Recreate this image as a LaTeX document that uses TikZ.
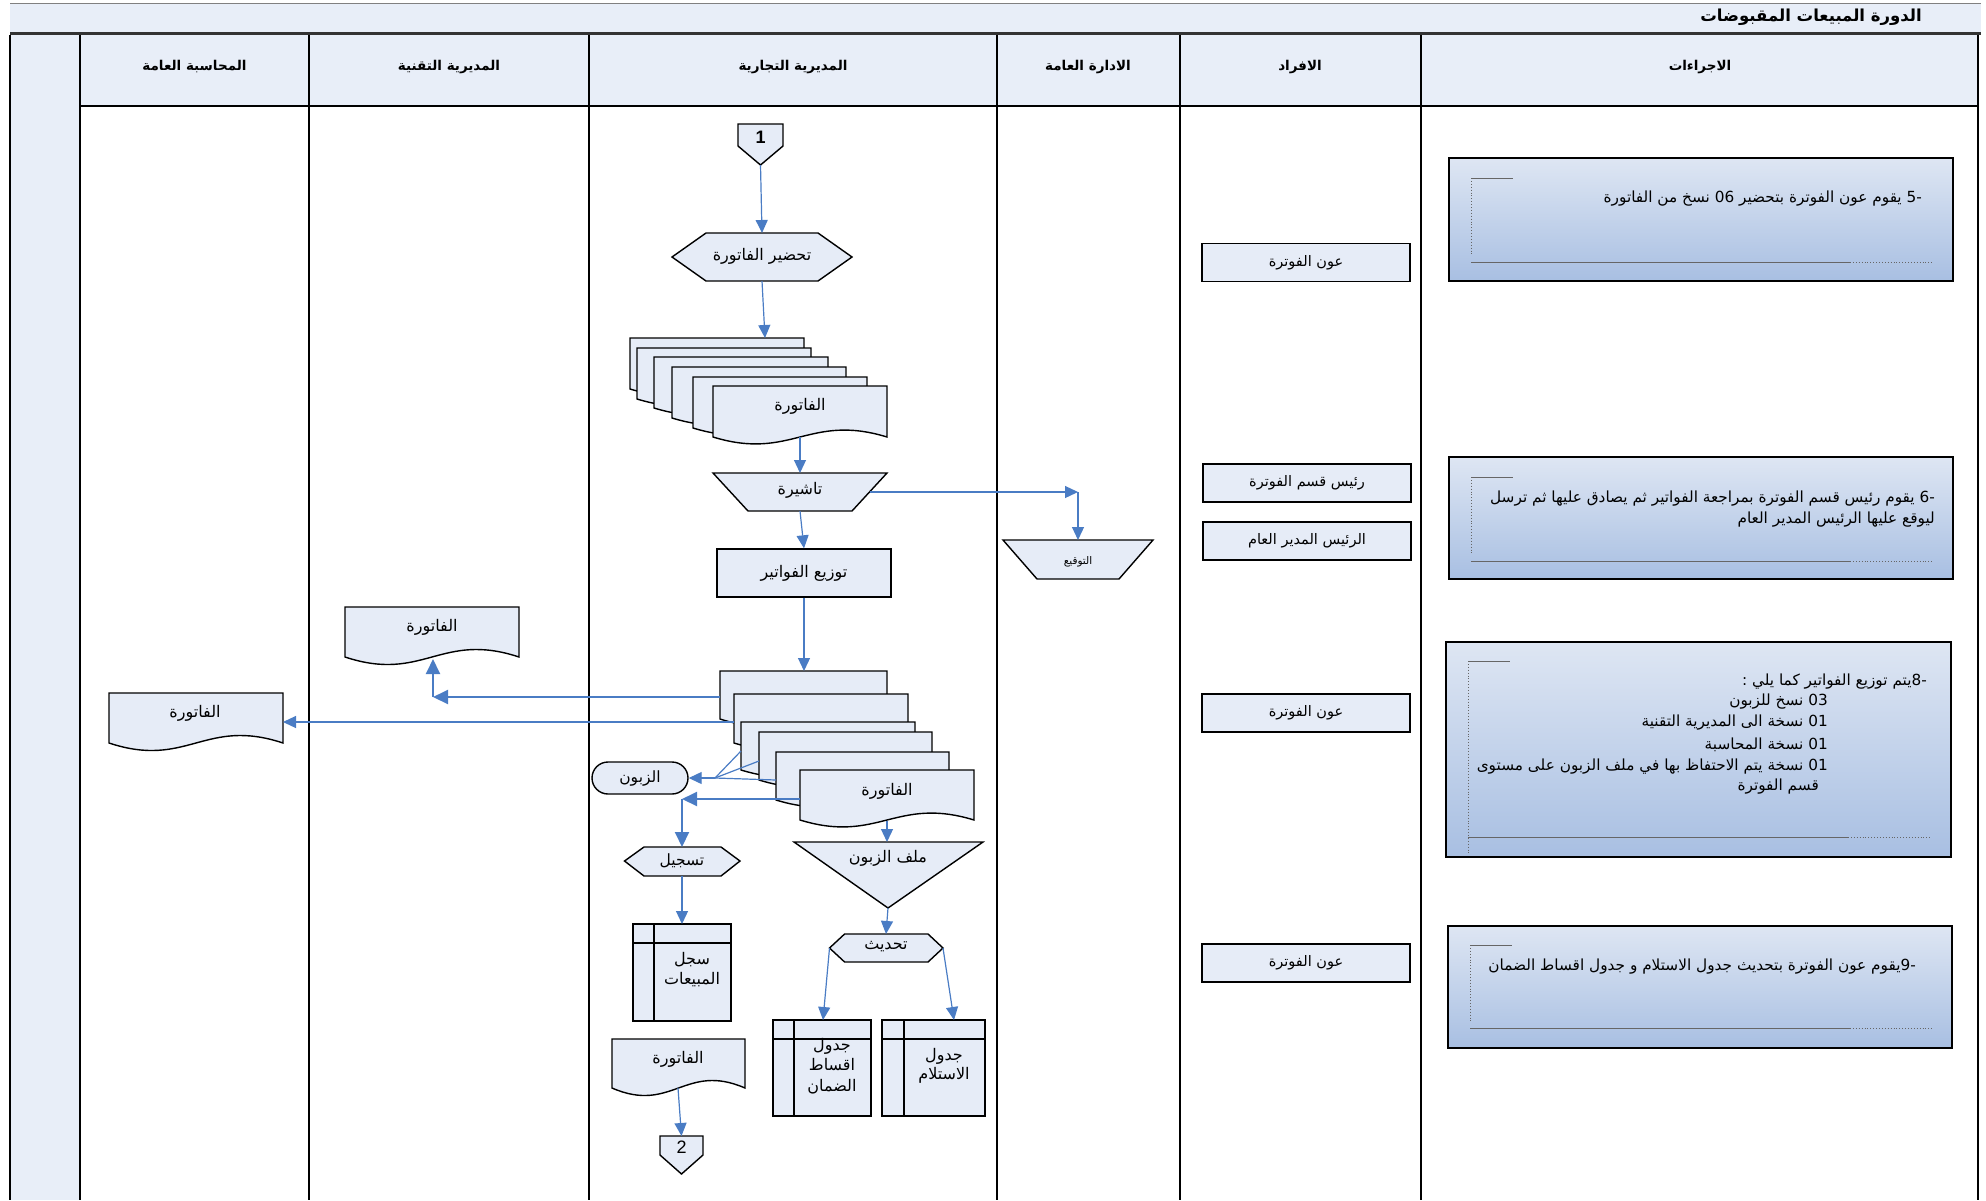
\documentclass[tikz,border=0pt]{standalone}
\usepackage{fontspec}
\setmainfont{Liberation Sans}
\newfontfamily\arfont[Script=Arabic]{DejaVu Sans}
\TeXXeTstate=1
\usetikzlibrary{arrows.meta,calc}
\definecolor{shapefill}{RGB}{230,236,247}
\definecolor{hdrfill}{RGB}{232,238,248}
\definecolor{arrblue}{RGB}{74,124,196}
\definecolor{boxtop}{RGB}{222,230,243}
\definecolor{boxbot}{RGB}{168,191,226}
\newcommand\rtl[1]{\beginR#1\endR}
\newcommand\ltr[1]{\beginL#1\endL{}}
\newcommand\docshape[5]{\filldraw[shp] ({#1},{#2}) -- ({#3},{#2}) -- ({#3},{#4}) .. controls ({#3-0.45*(#3-#1)},{#4-#5}) and ({#1+0.45*(#3-#1)},{#4+#5}) .. ({#1},{#4}) -- cycle;}
\newcommand\tableshape[6]{\filldraw[shp] ({#1},{#2}) rectangle ({#3},{#4}); \draw[shp,fill=none] ({#5},{#2}) -- ({#5},{#4}) ({#1},{#6}) -- ({#3},{#6});}
\newcommand\offpage[5]{\filldraw[shp] ({#1},{#2}) -- ({#3},{#2}) -- ({#3},{#4}) -- ({(#1+#3)/2},{#5}) -- ({#1},{#4}) -- cycle;}
\newcommand\procbox[8]{% x0 y0 x1 y1 ytop yvend ybottom xsolidend
  \path[proc] ({#1},{#2}) rectangle ({#3},{#4});
  \draw[brk] ({#1+22},{#5}) -- ({#1+64},{#5});
  \draw[brkd] ({#1+22},{#5}) -- ({#1+22},{#6});
  \draw[brk] ({#1+22},{#7}) -- ({#8},{#7});
  \draw[brkd] ({#8},{#7}) -- ({#3-20},{#7});}
\tikzset{
  shp/.style={draw=black, fill=shapefill, line width=1.4pt},
  arr/.style={draw=arrblue, line width=1.2pt, -{Triangle[length=13pt,width=12pt]}},
  arrk/.style={draw=arrblue, line width=2pt, -{Triangle[length=15pt,width=14pt]}},
  ln/.style={draw=arrblue, line width=1.2pt},
  lanel/.style={draw=black, line width=1.6pt},
  lbl/.style={font=\arfont\fontsize{16}{19}\selectfont, inner sep=0pt},
  hdr/.style={font=\arfont\bfseries\fontsize{13.5}{16}\selectfont, inner sep=0pt},
  ptxt/.style={font=\arfont\fontsize{15.3}{21.3}\selectfont, inner sep=0pt, align=right},
  proc/.style={draw=black, line width=1.6pt, top color=boxtop, bottom color=boxbot},
  brk/.style={draw=black!60, line width=0.9pt},
  brkd/.style={draw=black!60, line width=0.9pt, dotted},
  ibox/.style={draw=black, fill=shapefill, line width=1.4pt, minimum width=208pt, minimum height=38pt, font=\arfont\fontsize{14.5}{17}\selectfont},
}
\begin{document}
\begin{tikzpicture}[x=1pt,y=-1pt]
\useasboundingbox (0,0) rectangle (1986,1200);
% title bar
\fill[hdrfill] (10,3) rectangle (1981,33);
\draw[black!50, line width=1pt] (10,3) -- (1981,3);
\draw[black!80, line width=3pt] (10,33.5) -- (1981,33.5);
\node[anchor=east, font=\arfont\bfseries\fontsize{16.5}{20}\selectfont, inner sep=0pt] (title) at (1922,17) {\rtl{الدورة المبيعات المقبوضات}};
% header row and left strip
\fill[hdrfill] (10,35) rectangle (1978,106);
\fill[hdrfill] (10,106) rectangle (80,1200);
\draw[lanel] (80,106) -- (1978,106);
\foreach \xx in {10,80,309,589,997,1180,1421,1978} {\draw[lanel] (\xx,35) -- (\xx,1200);}
\node[hdr] (h1) at (194.5,67) {\rtl{المحاسبة العامة}};
\node[hdr] (h2) at (449,67) {\rtl{المديرية التقنية}};
\node[hdr] (h3) at (793,67) {\rtl{المديرية التجارية}};
\node[hdr] (h4) at (1088,67) {\rtl{الادارة العامة}};
\node[hdr] (h5) at (1300,67) {\rtl{الافراد}};
\node[hdr] (h6) at (1700,67) {\rtl{الاجراءات}};

% ---- commercial lane ----
\offpage{738}{124}{783}{146}{165}
\node[font=\bfseries\fontsize{18}{20}\selectfont, inner sep=0pt] (c1) at (760.5,137) {1};
\coordinate (c1-s) at (760.5,165);
\filldraw[shp] (672,257) -- (706,233) -- (818,233) -- (852,257) -- (818,281) -- (706,281) -- cycle;
\node[lbl] (prep) at (762,256) {\rtl{تحضير الفاتورة}};
\coordinate (prep-n) at (762,233); \coordinate (prep-s) at (762,281);
% stack 1
\docshape{630}{338}{804}{389}{24}
\docshape{637}{348}{811}{399}{24}
\docshape{654}{357}{828}{408}{24}
\docshape{672}{367}{846}{418}{24}
\docshape{693}{377}{867}{428}{24}
\docshape{713}{386}{887}{437}{24}
\node[lbl] (s1) at (800,406) {\rtl{الفاتورة}};
\coordinate (s1-n) at (765,338); \coordinate (s1-b) at (800,437);
% tashira
\filldraw[shp] (713,473) -- (887,473) -- (852,511) -- (748,511) -- cycle;
\node[lbl] (tash) at (800,490) {\rtl{تاشيرة}};
\coordinate (tash-n) at (800,473); \coordinate (tash-e) at (870,492); \coordinate (tash-s) at (800,511);
% signature
\filldraw[shp] (1003,540) -- (1153,540) -- (1119,579) -- (1037,579) -- cycle;
\node[font=\arfont\fontsize{10.5}{12}\selectfont, inner sep=0pt] (sign) at (1078,562) {\rtl{التوقيع}};
\coordinate (k1) at (1078,492); \coordinate (sign-n) at (1078,540);
% distribution
\node[draw=black, fill=shapefill, line width=1.4pt, minimum width=174pt, minimum height=48pt, font=\arfont\fontsize{16}{19}\selectfont] (dist) at (804,573) {\rtl{توزيع الفواتير}};
% stack 2
\docshape{720}{671}{887}{719}{24}
\docshape{734}{694}{908}{743}{24}
\docshape{741}{722}{915}{770}{24}
\docshape{759}{732}{932}{780}{24}
\docshape{776}{752}{949}{800}{24}
\docshape{800}{770}{974}{820}{24}
\node[lbl] (s2) at (887,791) {\rtl{الفاتورة}};
\coordinate (s2-n) at (804,671);
\coordinate (s2a-w) at (720,697); \coordinate (s2b-w) at (734,722);
\coordinate (s2c-w) at (741,751); \coordinate (s2d-w) at (759,761);
\coordinate (s2e-w) at (776,780); \coordinate (s2f-w) at (800,799);
\coordinate (s2-b) at (887,821);
% customer terminal
\node[draw=black, fill=shapefill, line width=1.4pt, rounded corners=16pt, minimum width=96pt, minimum height=32pt, font=\arfont\fontsize{15.5}{18}\selectfont] (cust) at (640,778) {\rtl{الزبون}};
\coordinate (jn) at (715,778);
% register hexagon
\filldraw[shp] (624.5,861) -- (644,847) -- (721,847) -- (740,861) -- (721,876) -- (644,876) -- cycle;
\node[lbl, font=\arfont\fontsize{15.5}{18}\selectfont] (reg) at (682,861) {\rtl{تسجيل}};
\coordinate (k3) at (682,799); \coordinate (reg-n) at (682,847); \coordinate (reg-s) at (682,876);
% sales register
\tableshape{633}{924}{731}{1021}{654}{943}
\node[lbl, align=center, font=\arfont\fontsize{16}{20}\selectfont] (sales) at (692,970) {\rtl{سجل}\\\rtl{المبيعات}};
\coordinate (sales-n) at (682,924);
% invoice doc bottom
\docshape{612}{1039}{745}{1088}{26}
\node[lbl] (doc3) at (678,1059) {\rtl{الفاتورة}};
\coordinate (doc3-b) at (678,1088);
\offpage{660}{1136}{703}{1155}{1174}
\node[font=\fontsize{18}{20}\selectfont, inner sep=0pt] (c2) at (681.5,1147) {2};
\coordinate (c2-n) at (681.5,1136);
% customer file triangle
\filldraw[shp] (794,842) -- (983,842) -- (888,908) -- cycle;
\node[lbl] (file) at (888,858) {\rtl{ملف الزبون}};
\coordinate (file-n) at (887,842); \coordinate (file-s) at (888,908);
% update hexagon
\filldraw[shp] (829.5,948) -- (844.6,934) -- (928,934) -- (943,948) -- (928,962) -- (844.6,962) -- cycle;
\node[lbl] (upd) at (886,947) {\rtl{تحديث}};
\coordinate (upd-n) at (886,934); \coordinate (upd-w) at (829.5,948); \coordinate (upd-e) at (943,948);
% tables
\tableshape{773}{1020}{871}{1116}{794}{1039}
\node[lbl, align=center, font=\arfont\fontsize{16}{20.5}\selectfont] (aqs) at (832,1066) {\rtl{جدول}\\\rtl{اقساط}\\\rtl{الضمان}};
\coordinate (aqs-n) at (823,1020);
\tableshape{882}{1020}{985}{1116}{904}{1039}
\node[lbl, align=center, font=\arfont\fontsize{16}{19.5}\selectfont] (ist) at (944,1066) {\rtl{جدول}\\\rtl{الاستلام}};
\coordinate (ist-n) at (954,1020);

% ---- technical & accounting docs ----
\docshape{345}{607}{519}{657}{26}
\node[lbl] (tech) at (432,627) {\rtl{الفاتورة}};
\coordinate (tech-b) at (433,659); \coordinate (k2) at (433,697);
\docshape{109}{693}{283}{743}{26}
\node[lbl] (acc) at (195,713) {\rtl{الفاتورة}};
\coordinate (acc-e) at (283,722);

% ---- individuals ----
\node[ibox] (i1) at (1306,262.5) {\rtl{عون الفوترة}};
\node[ibox] (i2) at (1307,483) {\rtl{رئيس قسم الفوترة}};
\node[ibox] (i3) at (1307,541) {\rtl{الرئيس المدير العام}};
\node[ibox] (i4) at (1306,713) {\rtl{عون الفوترة}};
\node[ibox] (i5) at (1306,963) {\rtl{عون الفوترة}};

% ---- procedures ----
\procbox{1449}{158}{1953}{281}{178}{255}{262}{1850}
\node[ptxt, anchor=east] (p5) at (1922,199) {\rtl{\ltr{-5} يقوم عون الفوترة بتحضير \ltr{06} نسخ من الفاتورة}};
\procbox{1449}{457}{1953}{579}{477}{553}{561}{1850}
\node[ptxt, anchor=east] (p6a) at (1935,499) {\rtl{\ltr{-6} يقوم رئيس قسم الفوترة  بمراجعة الفواتير ثم يصادق عليها ثم  ترسل}};
\node[ptxt, anchor=east] (p6b) at (1935,520) {\rtl{ليوقع عليها الرئيس المدير العام}};
\procbox{1446}{642}{1951}{857}{661}{853}{837}{1848}
\node[ptxt, anchor=east] (p8a) at (1927,682) {\rtl{\ltr{-8}يتم توزيع الفواتير كما يلي :}};
\node[ptxt, anchor=east] (p8b) at (1828,702) {\rtl{\ltr{03} نسخ للزبون}};
\node[ptxt, anchor=east] (p8c) at (1828,723) {\rtl{\ltr{01} نسخة الى المديرية التقنية}};
\node[ptxt, anchor=east] (p8d) at (1828,745) {\rtl{\ltr{01} نسخة المحاسبة}};
\node[ptxt, anchor=east] (p8e) at (1828,767) {\rtl{\ltr{01} نسخة يتم الاحتفاظ بها في ملف الزبون على مستوى}};
\node[ptxt, anchor=east] (p8f) at (1819,787) {\rtl{قسم الفوترة}};
\procbox{1448}{926}{1952}{1048}{945}{1023}{1028}{1850}
\node[ptxt, anchor=east] (p9) at (1916,967) {\rtl{\ltr{-9}يقوم عون الفوترة بتحديث جدول الاستلام و جدول اقساط الضمان}};

% ---- connectors ----
\draw[arr] (c1-s) -- (prep-n);
\draw[arr] (prep-s) -- (s1-n);
\draw[arr] (s1-b) -- (tash-n);
\draw[arr] (tash-e) -- (k1);
\draw[arr] (k1) -- (sign-n);
\draw[arr] (tash-s) -- (dist.north);
\draw[arr] (dist.south) -- (s2-n);
\draw[arrk] (s2a-w) -- (k2);
\draw[arrk] (k2) -- (tech-b);
\draw[arr] (s2b-w) -- (acc-e);
\draw[ln] (s2c-w) -- (jn);
\draw[ln] (s2d-w) -- (jn);
\draw[ln] (s2e-w) -- (jn);
\draw[arr] (jn) -- (cust.east);
\draw[arrk] (s2f-w) -- (k3);
\draw[arrk] (k3) -- (reg-n);
\draw[arr] (s2-b) -- (file-n);
\draw[arr] (reg-s) -- (sales-n);
\draw[arr] (doc3-b) -- (c2-n);
\draw[arr] (file-s) -- (upd-n);
\draw[arr] (upd-w) -- (aqs-n);
\draw[arr] (upd-e) -- (ist-n);
\end{tikzpicture}
\end{document}
